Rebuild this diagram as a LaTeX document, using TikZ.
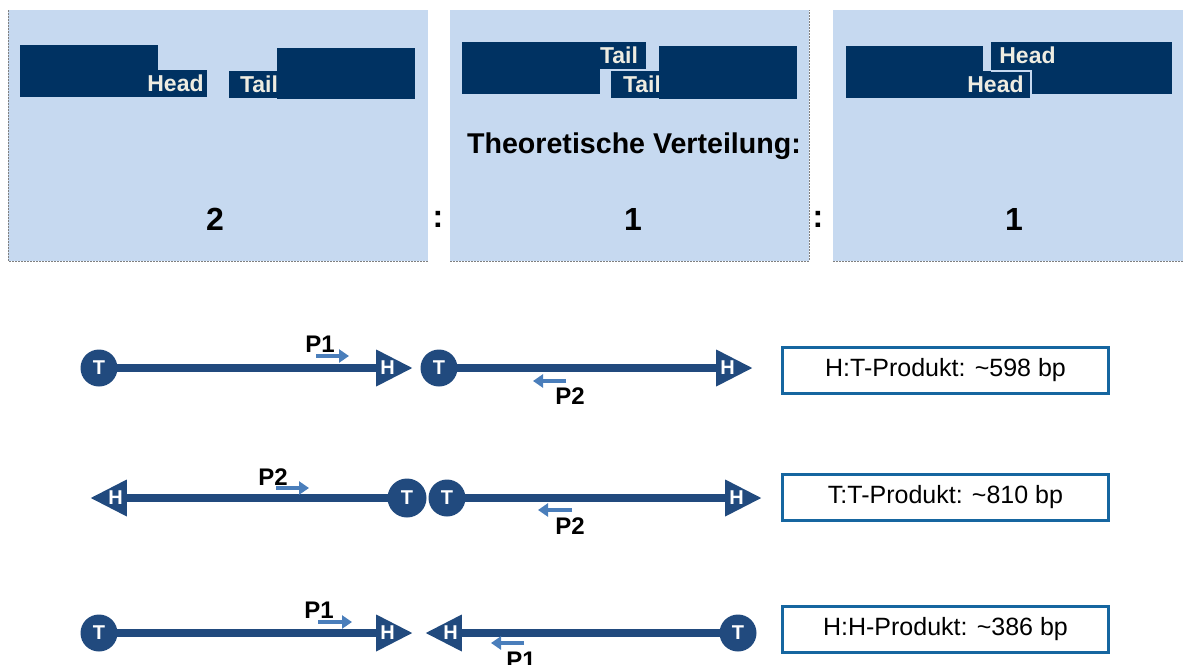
\documentclass[tikz,border=0pt]{standalone}
\usepackage{fontspec}
\setmainfont{Liberation Sans}
\usepackage{tikz}
\usetikzlibrary{arrows.meta,shapes.geometric,positioning}

\definecolor{panelblue}{RGB}{198,217,240}
\definecolor{bardark}{RGB}{0,50,98}
\definecolor{barfont}{RGB}{238,236,225}
\definecolor{strandblue}{RGB}{33,74,126}
\definecolor{primerblue}{RGB}{74,126,187}
\definecolor{boxblue}{RGB}{22,102,160}

\begin{document}
\begin{tikzpicture}[x=1pt,y=-1pt,
    block/.style={fill=bardark,inner sep=0pt,anchor=north west},
    tab/.style={fill=bardark,text=barfont,inner sep=0pt,minimum height=27pt,
        text height=16pt,text depth=0pt,font=\bfseries\fontsize{23}{27}\selectfont},
    edge/.style={draw=gray,line width=0.8pt,dash pattern=on 2pt off 1pt},
    gap/.style={draw=panelblue,line width=1.5pt},
    big/.style={font=\bfseries\fontsize{32}{36}\selectfont},
    tcirc/.style={circle,fill=strandblue,text=white,inner sep=0pt,minimum size=37pt,
        font=\bfseries\fontsize{20}{22}\selectfont},
    head/.style={isosceles triangle,isosceles triangle stretches,fill=strandblue,
        inner sep=0pt,minimum width=37pt,minimum height=36pt},
    headR/.style={head,shape border rotate=0,anchor=west},
    headL/.style={head,shape border rotate=180,anchor=east},
    hlab/.style={text=white,inner sep=0pt,font=\bfseries\fontsize{20}{22}\selectfont},
    strand/.style={draw=strandblue,line width=8pt,shorten <=-1pt,shorten >=-1pt},
    primer/.style={draw=primerblue,line width=4.5pt,-{Triangle[length=10pt,width=13pt]}},
    plab/.style={inner sep=0pt,font=\bfseries\fontsize{24}{26}\selectfont},
    prod/.style={draw=boxblue,line width=3pt,minimum width=326pt,minimum height=46pt,
        font=\fontsize{25}{28}\selectfont}]

    \useasboundingbox (0,0) rectangle (1183,664);

    % panels
    \fill[panelblue] (8,10) rectangle (428,261);
    \fill[panelblue] (450,10) rectangle (809,261);
    \fill[panelblue] (833,10) rectangle (1183,261);
    \draw[edge] (8,10) -- (8,261) -- (428,261);
    \draw[edge] (450,261) -- (809,261) -- (809,10);
    \draw[edge] (833,261) -- (1183,261);

    % tabs that sit under a block
    \node[tab,minimum width=60pt] (tailA) at (259,84.5) {Tail};
    \node[tab,minimum width=62pt] (tailB2) at (642,84.5) {Tail};

    \node[block,minimum width=138pt,minimum height=52pt] (a1) at (20,45) {};
    \node[block,minimum width=138pt,minimum height=51pt] (a2) at (277,48) {};
    \node[block,minimum width=138pt,minimum height=52pt] (b1) at (462,42) {};
    \node[block,minimum width=138pt,minimum height=53pt] (b2) at (659,46) {};
    \node[block,minimum width=137pt,minimum height=52pt] (c1) at (846,46) {};
    \node[block,minimum width=181pt,minimum height=52pt] (c2) at (991,42) {};

    \node[tab,minimum width=63pt] (headA) at (175.5,83.5) {Head};
    \node[tab,minimum width=54pt] (tailB1) at (619,55.5) {Tail};
    \node[tab,minimum width=60pt] (headC2) at (1027.5,55.5) {Head};
    \node[tab,minimum width=71pt] (headC1) at (995.5,84.5) {Head};
    \draw[gap] (c2.west |- headC1.north) -| (headC1.south east);

    \node[font=\bfseries\fontsize{28.6}{32}\selectfont] (theo) at (634,146) {Theoretische Verteilung:};
    \node[big] (n1) at (215,219) {2};
    \node[big] (n2) at (633,219) {1};
    \node[big] (n3) at (1014,219) {1};
    \node[big] (col1) at (438,219) {:};
    \node[big] (col2) at (818,219) {:};

    % H:T
    \node[tcirc] (t11) at (99,368) {T};
    \node[headR] (h11) at (376,368) {};
    \draw[strand] (t11) -- (h11);
    \node[hlab] (h11l) at ([xshift=11.5pt]h11.west) {H};
    \node[tcirc] (t12) at (439,368) {T};
    \node[headR] (h12) at (716,368) {};
    \draw[strand] (t12) -- (h12);
    \node[hlab] (h12l) at ([xshift=11.5pt]h12.west) {H};
    \node[plab] (p11) at (320,344) {P1};
    \draw[primer] (316,356) -- (349,356);
    \node[plab] (p12) at (570,396) {P2};
    \draw[primer] (566,381) -- (533,381);
    \node[prod] (ht) at (945.5,370.5) {H:T-Produkt: \char`\~598 bp};

    % T:T
    \node[headL] (h21) at (127,498) {};
    \node[tcirc,minimum size=39pt] (t21) at (407,498) {T};
    \draw[strand] (h21) -- (t21);
    \node[hlab] (h21l) at ([xshift=-11.5pt]h21.east) {H};
    \node[tcirc] (t22) at (447,498) {T};
    \node[headR] (h22) at (725,498) {};
    \draw[strand] (t22) -- (h22);
    \node[hlab] (h22l) at ([xshift=11.5pt]h22.west) {H};
    \node[plab] (p21) at (273,477) {P2};
    \draw[primer] (276,488) -- (309,488);
    \node[plab] (p22) at (570,526) {P2};
    \draw[primer] (572,510) -- (538,510);
    \node[prod] (tt) at (945.5,497.5) {T:T-Produkt: \char`\~810 bp};

    % H:H
    \node[tcirc] (t31) at (99,633) {T};
    \node[headR] (h31) at (376,633) {};
    \draw[strand] (t31) -- (h31);
    \node[hlab] (h31l) at ([xshift=11.5pt]h31.west) {H};
    \node[headL] (h32) at (462,633) {};
    \node[tcirc] (t32) at (738,633) {T};
    \draw[strand] (h32) -- (t32);
    \node[hlab] (h32l) at ([xshift=-11.5pt]h32.east) {H};
    \node[plab] (p31) at (319,610) {P1};
    \draw[primer] (318,622) -- (352,622);
    \node[plab] (p32) at (521,660) {P1};
    \draw[primer] (524,643) -- (491,643);
    \node[prod] (hh) at (945.5,629) {H:H-Produkt: \char`\~386 bp};
\end{tikzpicture}
\end{document}
